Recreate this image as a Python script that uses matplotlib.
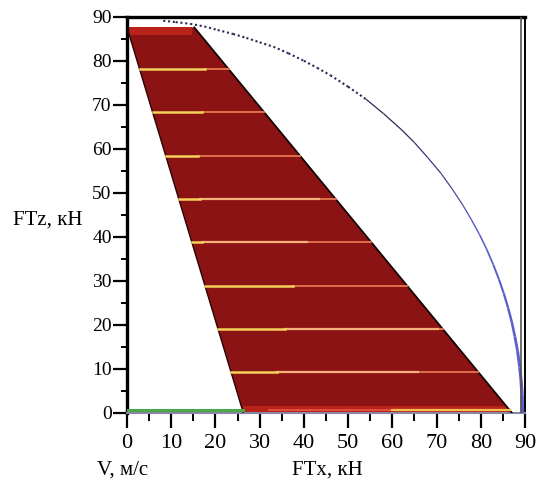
"""Область тяги: FTz от FTx, с дугой предельной силы"""

import matplotlib
matplotlib.use('Agg')
import matplotlib.pyplot as plt
import numpy as np
from matplotlib.collections import LineCollection
from matplotlib.ticker import MultipleLocator

plt.rcParams['font.family'] = ['Liberation Serif', 'DejaVu Serif']

# ===== данные =====
# многоугольник (FTx, FTz)
poly_x = [0.0, 15.2, 87.0, 26.3]
poly_z = [87.6, 87.6, 0.0, 0.0]

# горизонтальные линии внутри области
level_z = [78.1, 68.3, 58.3, 48.6, 38.8, 28.9, 19.1, 9.3]
yellow_end = [17.7, 17.0, 16.1, 16.6, 17.0, 37.6, 35.8, 34.0]
light_end = [17.7, 17.0, 16.1, 43.3, 40.8, 37.6, 70.3, 65.8]

# дуга предельной силы
arc_x = [8.2, 11.0, 14.3, 17.5, 20.5, 24.0, 27.0, 30.0, 33.1, 36.5, 40.0,
         43.0, 46.0, 50.0, 54.0, 58.0, 62.1, 65.0, 68.0, 71.0, 73.5, 75.8,
         77.8, 79.7, 81.3, 82.8, 84.1, 85.2, 86.2, 87.0, 87.7, 88.3, 88.8,
         89.1, 89.3, 89.4]
arc_z = [89.1, 88.8, 88.4, 87.8, 87.0, 86.1, 85.2, 84.2, 83.2, 81.7, 80.0,
         78.4, 76.7, 74.1, 71.3, 68.0, 64.3, 61.4, 58.0, 54.4, 50.9, 47.4,
         44.0, 40.5, 37.2, 33.7, 30.3, 27.1, 23.7, 20.6, 17.3, 14.0, 10.3,
         7.3, 4.2, 0.0]

# зелёная линия V
green_x = [0.0, 26.3]
green_z = [0.7, 0.7]

fig = plt.figure(figsize=(5.38, 4.8), dpi=100)
ax = fig.add_axes([0.236, 0.140, 0.740, 0.825])
ax.set_xlim(0, 90)
ax.set_ylim(0, 90)

# область
ax.fill(poly_x, poly_z, facecolor='#8c1313', edgecolor='none', zorder=2)
ax.plot([poly_x[0], poly_x[3]], [poly_z[0], poly_z[3]], color='#2a0505', lw=1.0, zorder=3)
ax.plot([poly_x[1], poly_x[2]], [poly_z[1], poly_z[2]], color='#150202', lw=1.3, zorder=3)

# светлые полосы сверху и снизу
ax.fill_between([0.4, 14.8], 85.8, 87.6, color='#b82219', lw=0, zorder=2.5)
ax.fill_between([26.3, 86.0], 0, 1.6, color='#b82219', lw=0, zorder=2.5)
ax.plot([32.0, 86.5], [0.7, 0.7], color='#e0503a', lw=1.5, zorder=3)
ax.plot([60.0, 86.5], [0.7, 0.7], color='#f0c050', lw=1.6, zorder=3.1)

# горизонтальные линии
for z, ye, le in zip(level_z, yellow_end, light_end):
    left = np.interp(z, [poly_z[3], poly_z[0]], [poly_x[3], poly_x[0]])
    right = np.interp(z, [poly_z[2], poly_z[1]], [poly_x[2], poly_x[1]])
    ax.plot([le, right], [z, z], color='#e0704a', lw=1.4, zorder=3)
    ax.plot([ye, le], [z, z], color='#f2b27a', lw=1.6, zorder=3.1)
    ax.plot([left, ye], [z, z], color='#f4d25a', lw=1.8, zorder=3.2)

# дуга: тёмная и пунктирная вверху, синяя и толще внизу
pts = np.column_stack([arc_x, arc_z])
segs = np.stack([pts[:-1], pts[1:]], axis=1)
zmid = (np.array(arc_z[:-1]) + np.array(arc_z[1:])) / 2
dark = np.array([0.16, 0.17, 0.33])
blue = np.array([0.36, 0.37, 0.80])
mix = np.clip((65 - zmid) / 25, 0, 1)
cols = [tuple(dark + (blue - dark) * m) for m in mix]
widths = np.where(zmid > 70, 1.5, 0.9 + 1.7 * np.clip((45 - zmid) / 45, 0, 1))
styles = [(0, (1.0, 1.3)) if z > 70 else 'solid' for z in zmid]
lc = LineCollection(segs, colors=cols, linewidths=widths, linestyles=styles, zorder=4)
ax.add_collection(lc)

ax.plot(green_x, green_z, color='#4aa84a', lw=2.2, zorder=4)

# внутренняя правая линия
ax.axvline(89.1, color='#555555', lw=1.2, zorder=5)

# оси
for s in ['left', 'top']:
    ax.spines[s].set_linewidth(2.4)
ax.spines['right'].set_linewidth(1.4)
ax.spines['bottom'].set_linewidth(1.5)
ax.spines['bottom'].set_color('#8a86a6')

ax.xaxis.set_major_locator(MultipleLocator(10))
ax.xaxis.set_minor_locator(MultipleLocator(5))
ax.yaxis.set_major_locator(MultipleLocator(10))
ax.yaxis.set_minor_locator(MultipleLocator(5))
ax.tick_params(axis='x', which='major', length=11, width=1.6, direction='out',
               labelsize=16, pad=4, color='black')
ax.tick_params(axis='x', which='minor', length=6, width=1.4, direction='out', color='black')
ax.tick_params(axis='y', which='major', length=10, width=1.6, direction='out',
               labelsize=14, pad=1)
ax.tick_params(axis='y', which='minor', length=4.5, width=1.4, direction='out')

fig.text(48 / 538, 1 - 220 / 480, 'FTz, кН', ha='center', va='center', fontsize=15)
fig.text(97 / 538, 1 - 470 / 480, 'V, м/с', ha='left', va='center', fontsize=15)
fig.text(327 / 538, 1 - 470 / 480, 'FTx, кН', ha='center', va='center', fontsize=15)

plt.savefig('out.png', dpi=100)
plt.close()
